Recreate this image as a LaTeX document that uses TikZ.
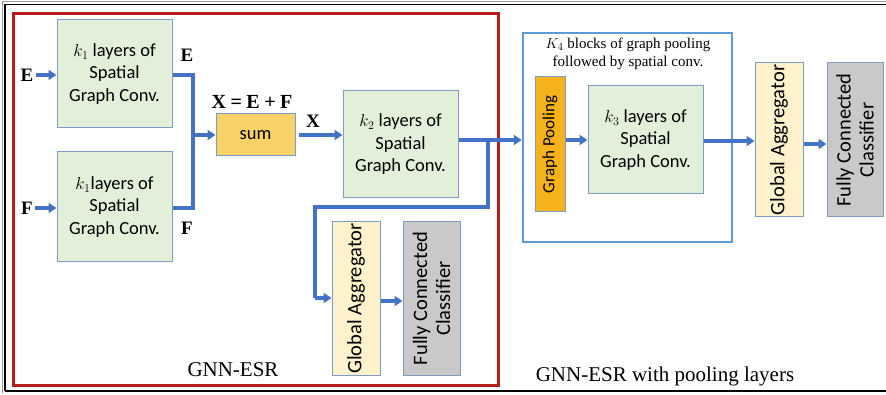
\documentclass[tikz,border=0pt]{standalone}
\usepackage{fontspec}
\setmainfont{Carlito}
\newfontfamily\tnr{Liberation Serif}
\usetikzlibrary{arrows.meta}
\definecolor{boxgreen}{HTML}{E2F0D9}
\definecolor{boxedge}{HTML}{7F9CC4}
\definecolor{sumfill}{HTML}{F8D168}
\definecolor{gafill}{HTML}{FFF2CC}
\definecolor{fcfill}{HTML}{C9C9C9}
\definecolor{gpfill}{HTML}{F5B21A}
\definecolor{arrowblue}{HTML}{4472C4}
\definecolor{frameblue}{HTML}{5B9BD5}
\definecolor{framered}{HTML}{B71C1C}
\tikzset{
  conv/.style={draw=boxedge, line width=1pt, fill=boxgreen, minimum width=115pt, minimum height=108pt, align=center, font=\fontsize{18.5}{22.5}\selectfont, inner sep=0pt},
  sumbox/.style={draw=boxedge, line width=1pt, fill=sumfill, minimum width=79pt, minimum height=42pt, font=\fontsize{18.5}{21}\selectfont, inner sep=0pt},
  gabox/.style={draw=boxedge, line width=1pt, fill=gafill, minimum height=48pt, minimum width=153pt, font=\fontsize{20.5}{24}\selectfont, inner sep=0pt, rotate=90},
  fcbox/.style={draw=boxedge, line width=1pt, fill=fcfill, minimum height=56pt, minimum width=153pt, align=center, font=\fontsize{20.5}{23}\selectfont, inner sep=0pt, rotate=90},
  gpbox/.style={draw=boxedge, line width=1pt, fill=gpfill, minimum height=30pt, minimum width=135pt, font=\fontsize{17}{19}\selectfont, inner sep=0pt, rotate=90},
  flow/.style={draw=arrowblue, line width=3.2pt},
  arr/.style={flow, -{Triangle[length=8pt,width=10pt]}},
  serifbold/.style={font=\tnr\bfseries\fontsize{19}{22}\selectfont, inner sep=0pt},
  caption/.style={font=\tnr\fontsize{21}{24}\selectfont, inner sep=0pt},
}
\begin{document}
\begin{tikzpicture}[x=1pt,y=-1pt]
\useasboundingbox (0,0) rectangle (886,395);
% outer frame
\draw[black!40, line width=1pt] (2,2) -- (886,2);
\draw[black, line width=1.6pt] (5,4.5) -- (886,4.5);
\draw[black, line width=1.6pt] (5,4.5) -- (5,391);
\draw[black!40, line width=1pt] (2,2) -- (2,393);
\draw[black, line width=1.6pt] (5,391) -- (886,391);
% red frame
\node[draw=framered, line width=3pt, minimum width=485pt, minimum height=371pt, inner sep=0pt] (red) at (255.5,199.5) {};
% blue frame
\node[draw=frameblue, line width=2.5pt, minimum width=209pt, minimum height=209pt, inner sep=0pt] (blue) at (627.5,137.5) {};
% boxes
\node[conv] (bE) at (114.5,74) {$k_1$ layers of\\Spatial\\Graph Conv.};
\node[conv, minimum height=110pt] (bF) at (114.5,207) {$k_1$layers of\\Spatial\\Graph Conv.};
\node[sumbox] (sum) at (255.5,135) {sum};
\node[conv, minimum height=107pt] (k2) at (400.5,144.5) {$k_2$ layers of\\Spatial\\Graph Conv.};
\node[gabox] (ga1) at (356,298.5) {Global Aggregator};
\node[fcbox, minimum height=57pt] (fc1) at (431.5,298.5) {Fully Connected\\Classifier};
\node[gpbox] (gp) at (550,144.5) {Graph Pooling};
\node[conv] (k3) at (645.5,140) {$k_3$ layers of\\Spatial\\Graph Conv.};
\node[gabox, minimum width=154pt] (ga2) at (779,140) {Global Aggregator};
\node[fcbox, minimum width=154pt] (fc2) at (855,140) {Fully Connected\\Classifier};
% labels
\node[serifbold] (inE) at (27,75) {E};
\node[serifbold] (inF) at (27,208) {F};
\node[serifbold] (lE) at (187,55) {E};
\node[serifbold] (lF) at (187,228) {F};
\node[serifbold, font=\tnr\bfseries\fontsize{20}{22}\selectfont] (lsum) at (252,102) {X\hspace{4.5pt}=\hspace{4.5pt}E\hspace{4.5pt}+\hspace{4.5pt}F};
\node[serifbold] (lX) at (313,121) {X};
\node[font=\tnr\fontsize{15}{18}\selectfont, align=center, inner sep=0pt] (k4) at (628,54) {$K_4$ blocks of graph pooling\\followed by spatial conv.};
\node[caption] (cap1) at (233,370) {GNN-ESR};
\node[caption] (cap2) at (665,376) {GNN-ESR with pooling layers};
% connectors
\coordinate (jn) at (193,135);
\coordinate (br) at (488,140);
\coordinate (dn) at (315,207);
\draw[arr] (inE.east) ++(2,0) -- (bE.west |- inE);
\draw[arr] (inF.east) ++(2,0) -- (bF.west |- inF);
\draw[flow] (bE.east |- inE) -| (jn) |- (bF.east |- inF);
\draw[arr] (jn) -- (sum.west |- jn);
\draw[arr] ([xshift=3pt]sum.east) -- (k2.west |- sum.east);
\draw[arr] (k2.east |- br) -- (blue.west |- br);
\draw[flow] (br) |- (dn) -- (dn |- 0,298);
\draw[arr] (dn |- 0,298) -- (ga1.north |- 0,298);
\draw[arr] (ga1.south |- 0,301) -- (fc1.north |- 0,301);
\draw[arr] (gp.south |- br) -- (k3.west |- br);
\draw[arr] (k3.east |- 0,141) -- (ga2.north |- 0,141);
\draw[arr] (ga2.south |- 0,144) -- (fc2.north |- 0,144);
\end{tikzpicture}
\end{document}
